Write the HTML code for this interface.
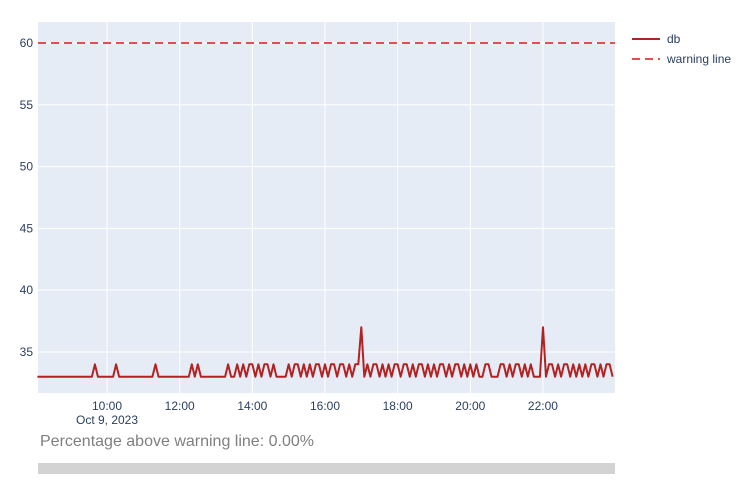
<!DOCTYPE html>
<html><head><meta charset="utf-8"><style>
body{margin:0;background:#fff;font-family:"Liberation Sans",sans-serif;}
#wrap{position:relative;width:752px;height:499px;}
#note{position:absolute;left:40px;top:433px;font-size:16px;color:#7f7f7f;}
#bar{position:absolute;left:38px;top:463px;width:577px;height:11px;background:#d3d3d3;}
</style></head><body>
<div id="wrap">
<svg id="chart" width="752" height="430"></svg>
<div id="note">Percentage above warning line: 0.00%</div>
<div id="bar"></div>
</div>
<script>
const startMinute = 8*60+5;
const stepMinutes = 5;
const dbValues = [
33,33,33,33,33,33,33,33,33,33,33,
33,33,33,33,33,33,33,33,34,33,33,33,
33,33,33,34,33,33,33,33,33,33,33,33,
33,33,33,33,34,33,33,33,33,33,33,33,
33,33,33,33,34,33,34,33,33,33,33,33,
33,33,33,33,34,33,33,34,33,34,33,34,
34,33,34,33,34,34,33,34,33,33,33,33,
34,33,34,34,33,34,33,34,33,34,34,33,
34,33,34,34,33,34,34,33,34,33,34,34,
37,33,34,33,34,34,33,34,33,34,33,34,
34,33,34,34,33,34,33,34,34,33,34,33,
34,33,34,34,33,34,33,34,34,33,34,33,
34,33,34,33,33,34,34,33,33,33,34,34,
33,34,33,34,34,33,34,33,34,33,33,33,
37,33,34,34,33,34,33,34,34,33,34,33,
34,33,34,33,34,34,33,34,33,34,34,33];
const warningLevel = 60;
const yTicks = [35,40,45,50,55,60];
const xTickHours = [10,12,14,16,18,20,22];
const xTickLabels = ["10:00","12:00","14:00","16:00","18:00","20:00","22:00"];

const L=38,R=615,T=22,B=393;
const xMin=8*60+6, xMax=23*60+59, yMin=31.68, yMax=61.7;
const xs=m=>L+(m-xMin)/(xMax-xMin)*(R-L);
const ys=v=>B-(v-yMin)/(yMax-yMin)*(B-T);
const svg=document.getElementById('chart');
const NS="http://www.w3.org/2000/svg";
function mk(tag,attrs){const e=document.createElementNS(NS,tag);for(const k in attrs)e.setAttribute(k,attrs[k]);svg.appendChild(e);return e;}
const bg=mk('rect',{x:L,y:T,width:R-L,height:B-T,fill:'#e5ecf6'});


xTickHours.forEach((h,i)=>{
 const x=xs(h*60);
 const g=mk('line',{x1:x,x2:x,y1:T,y2:B,stroke:'#fff','stroke-width':1});
 
 
 const t=mk('text',{x:x,y:410,'text-anchor':'middle','font-size':12,fill:'#2a3f5f'});
 t.textContent=xTickLabels[i];
 
 
});
const d=mk('text',{x:xs(10*60),y:424,'text-anchor':'middle','font-size':12,fill:'#2a3f5f'});
d.textContent="Oct 9, 2023";


yTicks.forEach(v=>{
 const y=ys(v);
 const g=mk('line',{x1:L,x2:R,y1:y,y2:y,stroke:'#fff','stroke-width':1});
 
 
 const t=mk('text',{x:33,y:y+4,'text-anchor':'end','font-size':12,fill:'#2a3f5f'});
 t.textContent=v;
 
 
});
const wl=mk('line',{x1:L,x2:R,y1:ys(warningLevel),y2:ys(warningLevel),stroke:'#d9534f','stroke-width':2,'stroke-dasharray':'8,5'});


const pts=dbValues.map((v,i)=>xs(startMinute+i*stepMinutes).toFixed(1)+','+ys(v).toFixed(1)).join(' ');
const pl=mk('polyline',{points:pts,fill:'none',stroke:'#b22222','stroke-width':2,'stroke-linejoin':'round'});


const l1=mk('line',{x1:632,x2:660,y1:39,y2:39,stroke:'#b22222','stroke-width':2});


const t1=mk('text',{x:667,y:43,'font-size':12,fill:'#2a3f5f'});t1.textContent='db';


const l2=mk('line',{x1:632,x2:660,y1:59,y2:59,stroke:'#d9534f','stroke-width':2,'stroke-dasharray':'8,5'});


const t2=mk('text',{x:667,y:63,'font-size':12,fill:'#2a3f5f'});t2.textContent='warning line';


</script>
</body></html>
